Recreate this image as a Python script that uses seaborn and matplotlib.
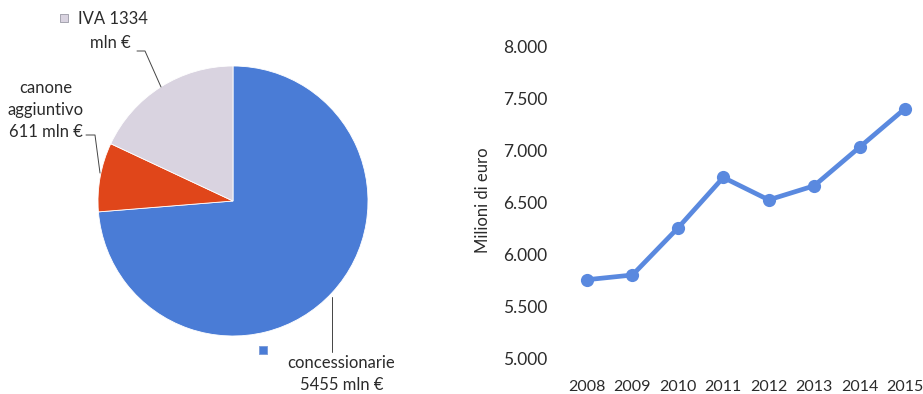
import matplotlib
matplotlib.use("Agg")
import matplotlib.pyplot as plt
import seaborn as sns
import pandas as pd

# ---- data ----
pie_labels = ["concessionarie", "canone aggiuntivo", "IVA"]
pie_values = [5455, 611, 1334]
years = [2008, 2009, 2010, 2011, 2012, 2013, 2014, 2015]
revenue = [5760, 5805, 6255, 6740, 6525, 6660, 7030, 7400]
y_ticks = [5000, 5500, 6000, 6500, 7000, 7500, 8000]
y_tick_labels = ["5.000", "5.500", "6.000", "6.500", "7.000", "7.500", "8.000"]

sns.set_theme(style="white")
plt.rcParams['font.family'] = ['Lato', 'DejaVu Sans']

W, H = 923, 394
fig = plt.figure(figsize=(W / 100, H / 100), dpi=100)
fig.patch.set_facecolor("white")

blue = "#4a7cd6"
red = "#e0461a"
gray = "#d9d3e0"
txt = "#2b2b2b"

# ---- pie (pixel coordinates, y upward) ----
axp = fig.add_axes([0, 0, 460 / W, 1])
axp.pie(pie_values, colors=[blue, red, gray], startangle=90, counterclock=False,
        center=(233, H - 201), radius=135, frame=True,
        wedgeprops=dict(linewidth=0.6, edgecolor="white"))
axp.set_xlim(0, 460)
axp.set_ylim(0, H)
axp.set_aspect("auto")
axp.axis("off")

fs = 12
def T(x, y, s, **kw):
    axp.text(x, H - y, s, fontsize=fs, color=txt, va="center", **kw)

# IVA label
axp.scatter([64], [H - 18], marker="s", s=40, color=gray, edgecolors="#9a9aa6", linewidths=0.6)
T(78, 19, "IVA 1334", ha="left")
T(110, 43, "mln €", ha="center")
axp.plot([137, 145, 161], [H - 51, H - 51, H - 87], color="#444444", lw=0.7)

# canone label
T(46, 88, "canone", ha="center")
T(46, 110, "aggiuntivo", ha="center")
T(46, 132, "611 mln €", ha="center")
axp.plot([86, 95, 100], [H - 135, H - 135, H - 173], color="#444444", lw=0.7)

# concessionarie label
axp.plot([332, 332], [H - 297, H - 352], color="#444444", lw=0.7)
axp.scatter([263], [H - 350], marker="s", s=40, color=blue, edgecolors="#7a9ad8", linewidths=0.6)
T(341, 363, "concessionarie", ha="center")
T(342, 385, "5455 mln €", ha="center")

# ---- line chart ----
left_px, right_px, top_px, bot_px = 560, 920, 30, 370
axl = fig.add_axes([left_px / W, 1 - bot_px / H, (right_px - left_px) / W, (bot_px - top_px) / H])
df = pd.DataFrame({"anno": years, "valore": revenue})
sns.lineplot(data=df, x="anno", y="valore", ax=axl, color="#5a89df", linewidth=3.4,
             marker="o", markersize=9.5, markeredgewidth=0)

xs = 318 / 7
axl.set_xlim(2008 - 27 / xs, 2015 + 15 / xs)
ys = 313 / 3000
axl.set_ylim(5000 - 11 / ys, 8000 + 16 / ys)
axl.set_yticks(y_ticks)
axl.set_yticklabels(y_tick_labels)
axl.set_xticks(years)
axl.set_xticklabels([str(y) for y in years], fontsize=11.5)
for lab in axl.get_yticklabels():
    lab.set_fontsize(12.5)
    lab.set_color(txt)
for lab in axl.get_xticklabels():
    lab.set_color(txt)
axl.tick_params(axis="y", length=0, pad=9)
axl.tick_params(axis="x", length=0, pad=7)
axl.set_xlabel("")
axl.set_ylabel("Milioni di euro", fontsize=12, color=txt, labelpad=9)
for sp in axl.spines.values():
    sp.set_visible(False)
axl.grid(False)
axl.set_facecolor("none")

fig.savefig("out.png", dpi=100, facecolor="white")
